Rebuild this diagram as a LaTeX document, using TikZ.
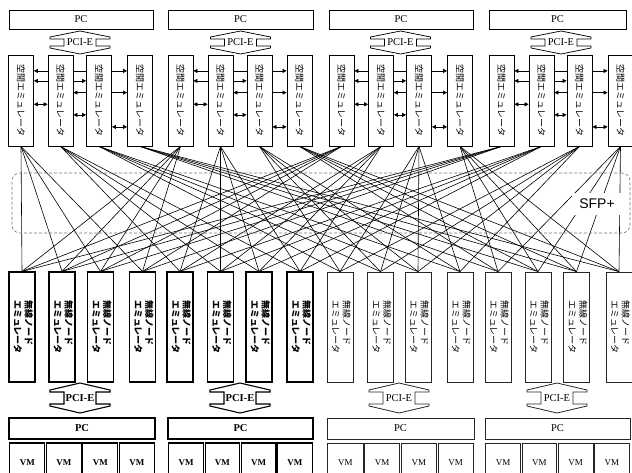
\documentclass[tikz,border=0pt]{standalone}
\usepackage{fontspec}
\setmainfont{Liberation Serif}
\newfontfamily\jpfont{Noto Sans CJK JP}
\newfontfamily\sfpfont{Liberation Sans}
\usetikzlibrary{arrows.meta,backgrounds}

\tikzset{
  pcbox/.style={draw, line width=0.8pt, inner sep=0pt, font=\fontsize{10.5}{12}\selectfont},
  spbox/.style={draw, line width=0.8pt, fill=white, minimum width=25pt, minimum height=91pt, inner sep=0pt,
    font=\jpfont\fontsize{9}{11}\selectfont},
  ndbox/.style={draw, fill=white, minimum width=26pt, minimum height=110pt, inner sep=0pt,
    font=\jpfont\fontsize{9}{11}\selectfont},
  vmbox/.style={draw, inner sep=0pt, font=\fontsize{9}{10}\selectfont},
  darkpart/.style={line width=1.1pt, draw=black},
  lightpart/.style={line width=0.8pt, draw=black!85},
  link/.style={line width=0.6pt},
  tip/.tip={Triangle[length=4pt,width=4pt]},
  harrow/.style={line width=0.7pt, tip-tip}
}

\newcommand{\pcishape}[5]{% cx, cy, apex, wing, style
  \draw[#5, fill=white] (#1,#2-#3) -- (#1+30,#2-#4-2) -- (#1+30,#2-#4) -- (#1+16,#2-#4)
    -- (#1+16,#2+#4) -- (#1+30,#2+#4) -- (#1+30,#2+#4+2) -- (#1,#2+#3)
    -- (#1-30,#2+#4+2) -- (#1-30,#2+#4) -- (#1-16,#2+#4) -- (#1-16,#2-#4)
    -- (#1-30,#2-#4) -- (#1-30,#2-#4-2) -- cycle;}

\begin{document}
\begin{tikzpicture}[x=1pt,y=-1pt]
\useasboundingbox (0,0) rectangle (632,472);
\clip (0,0) rectangle (632,472);

% top PCs
\foreach \l/\r [count=\i] in {9/153,168/313,329/473,489/626}
  \node[pcbox, minimum width={(\r-\l)*1pt}, minimum height=19pt] (pct\i) at ({(\l+\r)/2},19.5) {PC};

% PCI-E (top)
\foreach \c [count=\i] in {80,240.5,400.5,561} {
  \pcishape{\c}{42.5}{11.5}{3.5}{line width=0.7pt}
  \node[font=\fontsize{10.5}{12}\selectfont, inner sep=0pt] (pcit\i) at (\c,42.5) {PCI-E};
}

% spatial emulators
\foreach \x [count=\i from 0] in {21,60.5,99,140,180.5,220.5,259.5,299.5,341.5,381,419,460,501.5,541.5,579.5,620.5}
  \node[spbox] (u\i) at (\x,100.5) {\rotatebox{-90}{空間エミュレータ}};

% arrows between spatial emulators
\foreach \g in {0,...,3} {
  \pgfmathtruncatemacro{\a}{4*\g}
  \pgfmathtruncatemacro{\b}{4*\g+1}
  \pgfmathtruncatemacro{\c}{4*\g+2}
  \pgfmathtruncatemacro{\d}{4*\g+3}
  \begin{scope}[on background layer]
    \draw[harrow] ([yshift=-16.3pt]u\a.north east) -- ([yshift=-16.3pt]u\d.north west);
    \draw[harrow] ([yshift=-26.3pt]u\a.north east) -- ([yshift=-26.3pt]u\c.north west);
    \draw[harrow] ([yshift=-38pt]u\b.north east) -- ([yshift=-38pt]u\d.north west);
  \end{scope}
  \draw[harrow] ([yshift=-49.7pt]u\a.north east) -- ([yshift=-49.7pt]u\b.north west);
  \draw[harrow] ([yshift=-60.3pt]u\b.north east) -- ([yshift=-60.3pt]u\c.north west);
  \draw[harrow] ([yshift=-72.3pt]u\c.north east) -- ([yshift=-72.3pt]u\d.north west);
}

% radio node emulators
\foreach \x [count=\i from 0] in {22,62,100.5,142.5,180,220.5,259,300}
  \node[ndbox, darkpart] (l\i) at (\x,327)
    {\rotatebox{-90}{\bfseries\begin{tabular}{@{}l@{}}無線ノード\\エミュレータ\end{tabular}}};
\foreach \x [count=\i from 8] in {340,380.5,418,460,498,538,576.5,619}
  \node[ndbox, lightpart] (l\i) at (\x,327)
    {\rotatebox{-90}{\begin{tabular}{@{}l@{}}無線ノード\\エミュレータ\end{tabular}}};

% SFP+ links
\foreach \g in {0,...,3}
  \foreach \j in {0,...,3}
    \foreach \k in {0,...,3} {
      \pgfmathtruncatemacro{\src}{4*\g+\j}
      \pgfmathtruncatemacro{\dst}{4*\j+\k}
      \draw[link] (u\src.south) -- (l\dst.north);
    }

\node[draw=black!55, line width=0.6pt, dash pattern=on 3pt off 2pt, rounded corners=8pt,
  minimum width=618pt, minimum height=60pt] (sfparea) at (321,203) {};
\node[fill=white, inner xsep=7pt, inner ysep=6pt, font=\sfpfont\fontsize{14}{16}\selectfont] (sfp) at (597,204) {SFP+};

% PCI-E (bottom)
\foreach \c [count=\i] in {80,240} {
  \pcishape{\c}{398}{15}{6}{line width=1.1pt}
  \node[font=\bfseries\fontsize{10.5}{12}\selectfont, inner sep=0pt] (pcib\i) at (\c,398) {PCI-E};
}
\foreach \c [count=\i from 3] in {399,557} {
  \pcishape{\c}{398}{15}{6}{line width=0.8pt, draw=black!85}
  \node[font=\fontsize{10.5}{12}\selectfont, inner sep=0pt] (pcib\i) at (\c,398) {PCI-E};
}

% bottom PCs and VMs
\foreach \l/\r [count=\i] in {9/155,168/313} {
  \node[pcbox, darkpart, font=\bfseries\fontsize{10.5}{12}\selectfont,
    minimum width={(\r-\l)*1pt}, minimum height=21pt] (pcb\i) at ({(\l+\r)/2},428.5) {PC};
  \foreach \k in {0,...,3}
    \node[vmbox, darkpart, font=\bfseries\fontsize{9}{10}\selectfont, minimum width={((\r-\l)/4-1.6)*1pt},
      minimum height=40pt] (vm\i\k) at ({\l+(\k+0.5)*(\r-\l)/4},463) {VM};
}
\foreach \l/\r [count=\i from 3] in {327/474,485/630} {
  \node[pcbox, lightpart, minimum width={(\r-\l)*1pt}, minimum height=21pt] (pcb\i) at ({(\l+\r)/2},428.5) {PC};
  \foreach \k in {0,...,3}
    \node[vmbox, lightpart, minimum width={((\r-\l)/4-1.6)*1pt},
      minimum height=40pt] (vm\i\k) at ({\l+(\k+0.5)*(\r-\l)/4},463) {VM};
}

\end{tikzpicture}
\end{document}
